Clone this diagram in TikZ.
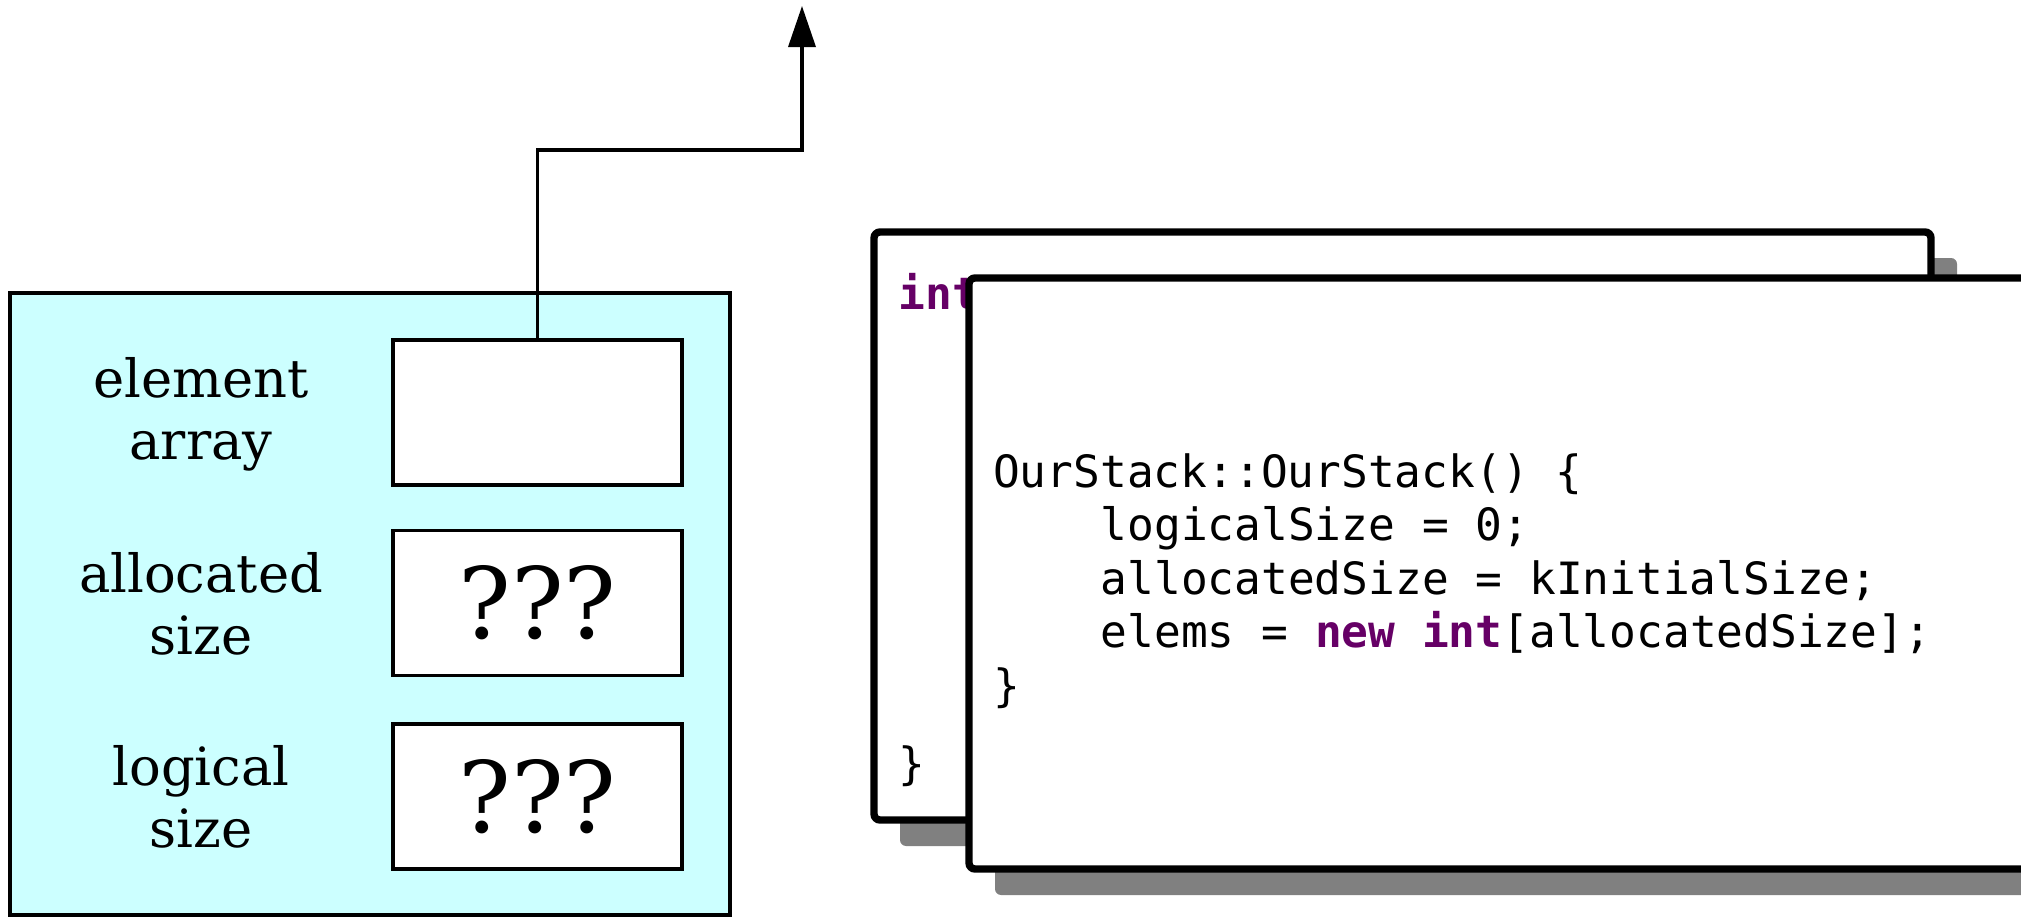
\documentclass[tikz,border=0pt]{standalone}
\usepackage{fontspec}
\setmainfont{DejaVu Serif}
\setmonofont{DejaVu Sans Mono}
\usetikzlibrary{arrows.meta,positioning,shadows}

\definecolor{objcyan}{RGB}{204,255,255}
\definecolor{kwpurple}{RGB}{102,0,102}
\newcommand{\kw}[1]{\textcolor{kwpurple}{\textbf{#1}}}

\begin{document}
\begin{tikzpicture}[x=0.1mm,y=-0.1mm,
stackobj/.style={draw,fill=objcyan,line width=1pt,minimum width=72mm,minimum height=62.2mm},
field/.style={draw,fill=white,line width=1pt,minimum width=28.9mm,minimum height=14.5mm,
  font=\fontsize{28}{32}\selectfont},
fieldname/.style={align=center,font=\fontsize{15}{17.6}\selectfont},
codebox/.style={draw,fill=white,line width=2.1pt,rounded corners=0.6mm,
  drop shadow={fill=black!50,opacity=1,shadow xshift=2.6mm,shadow yshift=-2.6mm}},
code/.style={anchor=base west,inner sep=0pt,font=\ttfamily\fontsize{12.66}{15.3}\selectfont},
ptr/.style={line width=1pt,-{Triangle[length=4.1mm,width=2.7mm]}}]
\useasboundingbox (0,0) rectangle (2021,917);
\clip (0,0) rectangle (2021,917);

% the stack object
\node[stackobj] (obj) at (370,604) {};
\node[field] (elems) at (537.5,412.5) {};
\node[field] (alloc) at (537.5,603) {???};
\node[field] (logic) at (537.5,796.5) {???};
\node[fieldname] (elemsname) at (201,414) {element\\array};
\node[fieldname] (allocname) at (201,604) {allocated\\size};
\node[fieldname] (logicname) at (201,797) {logical\\size};

% the pointer
\coordinate (ptrend) at (802,6);
\draw[ptr] (elems.north) -- ++(0,-188) -| (ptrend);

% main, behind
\node[codebox,minimum width=105.7mm,minimum height=58.8mm] (mainbox) at (1402.5,526) {};
\node[code] (mainhead) at (898,309) {\kw{int} main() \{};
\node[code] (mainend) at (898,779) {\}};

% the constructor, in front
\node[codebox,minimum width=113.1mm,minimum height=59.1mm] (ctorbox) at (1534.5,573.5) {};
\node[code] (ctor1) at (992.5,487) {OurStack::OurStack() \{};
\node[code] (ctor2) at (1100,540.5) {logicalSize = 0;};
\node[code] (ctor3) at (1100,594) {allocatedSize = kInitialSize;};
\node[code] (ctor4) at (1100,647.5) {elems = \kw{new} \kw{int}[allocatedSize];};
\node[code] (ctor5) at (992.5,701) {\}};
\end{tikzpicture}
\end{document}
